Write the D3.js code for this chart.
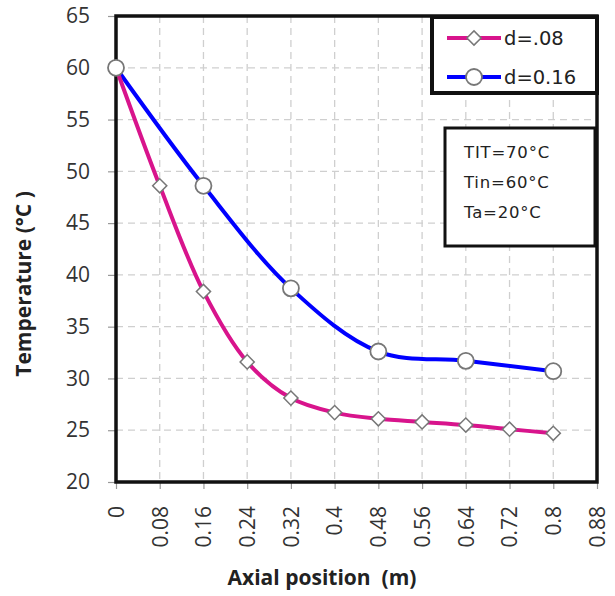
<!DOCTYPE html>
<html><head><meta charset="utf-8">
<script src="https://cdn.jsdelivr.net/npm/d3@7"></script>
<style>body{margin:0;background:#fff}svg{display:block}</style>
</head><body>
<svg id="c" width="615" height="596"></svg>
<script>
const xTicks = [0,0.08,0.16,0.24,0.32,0.4,0.48,0.56,0.64,0.72,0.8,0.88];
const xTickLabels = ["0","0.08","0.16","0.24","0.32","0.4","0.48","0.56","0.64","0.72","0.8","0.88"];
const yTicks = [20,25,30,35,40,45,50,55,60,65];
const xD08 = [0,0.08,0.16,0.24,0.32,0.4,0.48,0.56,0.64,0.72,0.8];
const yD08 = [60,48.6,38.4,31.6,28.1,26.7,26.1,25.8,25.5,25.1,24.7];
const xD16 = [0,0.16,0.32,0.48,0.64,0.8];
const yD16 = [60,48.6,38.7,32.6,31.7,30.7];
const seriesNames = ["d=.08","d=0.16"];
const infoLines = ["TIT=70°C","Tin=60°C","Ta=20°C"];

const svg = d3.select("#c");
const L=116,R=597,T=16,B=482;
const x = d3.scaleLinear().domain([0,0.88]).range([L,R]);
const y = d3.scaleLinear().domain([20,65]).range([B,T]);

// grid
svg.append("g").selectAll("line").data(xTicks.slice(1,-1)).join("line")
  .attr("x1",d=>x(d)).attr("x2",d=>x(d)).attr("y1",T).attr("y2",B)
  .attr("stroke","#cfcfcf").attr("stroke-width",1.3).attr("stroke-dasharray","7,5");
svg.append("g").selectAll("line").data(yTicks.slice(1,-1)).join("line")
  .attr("x1",L).attr("x2",R).attr("y1",d=>y(d)).attr("y2",d=>y(d))
  .attr("stroke","#cfcfcf").attr("stroke-width",1.3).attr("stroke-dasharray","7,5");

// axes
const yAxis = d3.axisLeft(y).tickValues(yTicks).tickSize(8).tickPadding(18);
const gy = svg.append("g").attr("transform",`translate(${L},0)`).call(yAxis);
gy.select(".domain").remove();
gy.selectAll(".tick line").attr("stroke","#999").attr("stroke-width",1.2);
gy.selectAll(".tick text").attr("font-family","Open Sans, sans-serif").attr("font-size",21).attr("fill","#333");

const xAxis = d3.axisBottom(x).tickValues(xTicks).tickFormat((d,i)=>xTickLabels[i]).tickSize(7);
const gx = svg.append("g").attr("transform",`translate(0,${B})`).call(xAxis);
gx.select(".domain").remove();
gx.selectAll(".tick line").attr("stroke","#999").attr("stroke-width",1.2);
gx.selectAll(".tick text").attr("font-family","Open Sans, sans-serif").attr("font-size",21).attr("fill","#333")
  .attr("transform","rotate(-90)").attr("text-anchor","end").attr("x",-24).attr("y",0).attr("dy","0.35em");

// frame
svg.append("rect").attr("x",L).attr("y",T).attr("width",R-L).attr("height",B-T)
  .attr("fill","none").attr("stroke","#111").attr("stroke-width",3.5);

// lines
const line = d3.line().x(d=>x(d[0])).y(d=>y(d[1])).curve(d3.curveCatmullRom.alpha(0.5));
const d08 = xD08.map((v,i)=>[v,yD08[i]]);
const d16 = xD16.map((v,i)=>[v,yD16[i]]);
svg.append("path").datum(d16).attr("d",line).attr("fill","none").attr("stroke","#0000ff").attr("stroke-width",4);
svg.append("path").datum(d08).attr("d",line).attr("fill","none").attr("stroke","#d8148c").attr("stroke-width",4);

const diamond = d3.symbol().type(d3.symbolSquare).size(100);
svg.append("g").selectAll("path").data(d08).join("path")
  .attr("d",diamond).attr("transform",d=>`translate(${x(d[0])},${y(d[1])}) rotate(45)`)
  .attr("fill","#fff").attr("stroke","#777").attr("stroke-width",1.5);
svg.append("g").selectAll("circle").data(d16).join("circle")
  .attr("cx",d=>x(d[0])).attr("cy",d=>y(d[1])).attr("r",8)
  .attr("fill","#fff").attr("stroke","#777").attr("stroke-width",1.8);

// legend
svg.append("rect").attr("x",432).attr("y",17).attr("width",165).attr("height",76)
  .attr("fill","#fff").attr("stroke","#111").attr("stroke-width",4);
const lg = [{c:"#d8148c",y:38,t:"diamond"},{c:"#0000ff",y:77,t:"circle"}];
lg.forEach((s,i)=>{
  svg.append("line").attr("x1",447).attr("x2",501).attr("y1",s.y).attr("y2",s.y).attr("stroke",s.c).attr("stroke-width",4);
  if(s.t==="diamond"){
    svg.append("path").attr("d",diamond).attr("transform",`translate(474,${s.y}) rotate(45)`)
      .attr("fill","#fff").attr("stroke","#777").attr("stroke-width",1.5);
  } else {
    svg.append("circle").attr("cx",474).attr("cy",s.y).attr("r",8).attr("fill","#fff").attr("stroke","#777").attr("stroke-width",1.8);
  }
  svg.append("text").attr("x",504).attr("y",s.y+7).text(seriesNames[i])
    .attr("font-family","DejaVu Sans, sans-serif").attr("font-size",19.5).attr("fill","#222");
});

// info box
svg.append("rect").attr("x",445).attr("y",128).attr("width",150).attr("height",118)
  .attr("fill","#fff").attr("stroke","#111").attr("stroke-width",3);
infoLines.forEach((t,i)=>{
  svg.append("text").attr("x",464).attr("y",158+i*30).text(t)
    .attr("font-family","DejaVu Sans, sans-serif").attr("font-size",16.5).attr("letter-spacing",0.8).attr("fill","#222");
});

// titles
svg.append("text").attr("transform","translate(31,284) rotate(-90)").attr("text-anchor","middle")
  .text("Temperature (°C )").attr("font-family","Open Sans, sans-serif").attr("font-weight","bold").attr("font-size",21).attr("fill","#222");
svg.append("text").attr("x",322).attr("y",585).attr("text-anchor","middle")
  .text("Axial position  (m)").attr("font-family","Open Sans, sans-serif").attr("font-weight","bold").attr("font-size",21).attr("fill","#222")
  .style("white-space","pre");
</script>
</body></html>
